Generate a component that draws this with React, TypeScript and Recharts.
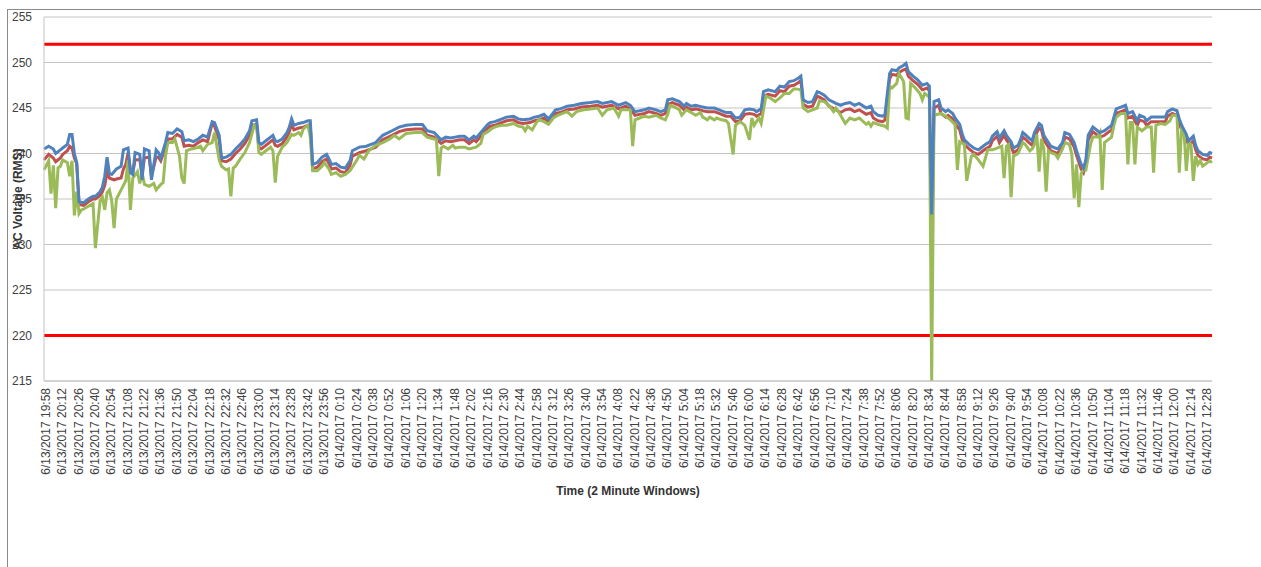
import { LineChart, Line, XAxis, YAxis, CartesianGrid, ReferenceLine, Label } from 'recharts';

// one label every 7 windows (14 minutes)
const tickLabels = [
  '6/13/2017 19:58', '6/13/2017 20:12', '6/13/2017 20:26', '6/13/2017 20:40', '6/13/2017 20:54', '6/13/2017 21:08',
  '6/13/2017 21:22', '6/13/2017 21:36', '6/13/2017 21:50', '6/13/2017 22:04', '6/13/2017 22:18', '6/13/2017 22:32',
  '6/13/2017 22:46', '6/13/2017 23:00', '6/13/2017 23:14', '6/13/2017 23:28', '6/13/2017 23:42', '6/13/2017 23:56',
  '6/14/2017 0:10', '6/14/2017 0:24', '6/14/2017 0:38', '6/14/2017 0:52', '6/14/2017 1:06', '6/14/2017 1:20',
  '6/14/2017 1:34', '6/14/2017 1:48', '6/14/2017 2:02', '6/14/2017 2:16', '6/14/2017 2:30', '6/14/2017 2:44',
  '6/14/2017 2:58', '6/14/2017 3:12', '6/14/2017 3:26', '6/14/2017 3:40', '6/14/2017 3:54', '6/14/2017 4:08',
  '6/14/2017 4:22', '6/14/2017 4:36', '6/14/2017 4:50', '6/14/2017 5:04', '6/14/2017 5:18', '6/14/2017 5:32',
  '6/14/2017 5:46', '6/14/2017 6:00', '6/14/2017 6:14', '6/14/2017 6:28', '6/14/2017 6:42', '6/14/2017 6:56',
  '6/14/2017 7:10', '6/14/2017 7:24', '6/14/2017 7:38', '6/14/2017 7:52', '6/14/2017 8:06', '6/14/2017 8:20',
  '6/14/2017 8:34', '6/14/2017 8:44', '6/14/2017 8:58', '6/14/2017 9:12', '6/14/2017 9:26', '6/14/2017 9:40',
  '6/14/2017 9:54', '6/14/2017 10:08', '6/14/2017 10:22', '6/14/2017 10:36', '6/14/2017 10:50', '6/14/2017 11:04',
  '6/14/2017 11:18', '6/14/2017 11:32', '6/14/2017 11:46', '6/14/2017 12:00', '6/14/2017 12:14', '6/14/2017 12:28',
];
const windowsPerLabel = 7;
const lastWindow = 500;

const yTicks = [215, 220, 225, 230, 235, 240, 245, 250, 255];
const upperLimit = 252;
const lowerLimit = 220;

// [window index, volts]
const blueSeries: [number, number][] = [
  [0, 240.5], [2, 240.8], [4, 240.5], [5, 240.0], [7, 240.4], [8, 240.6], [10, 241.0], [11, 242.1], [12, 242.1], [13, 240.0],
  [14, 239.0], [15, 234.7], [17, 234.6], [19, 235.0], [21, 235.3], [22, 235.3], [24, 235.8], [25, 236.3], [26, 237.5], [27, 239.6],
  [28, 237.8], [29, 237.7], [30, 238.0], [31, 238.3], [33, 238.6], [34, 240.4], [35, 240.5], [36, 240.6], [37, 237.9], [38, 237.7],
  [39, 240.1], [41, 239.9], [42, 237.1], [43, 240.5], [45, 240.3], [46, 237.1], [48, 240.4], [49, 240.1], [50, 239.5], [52, 241.2],
  [53, 242.3], [55, 242.2], [57, 242.7], [59, 242.4], [60, 241.4], [62, 241.5], [64, 241.3], [66, 241.6], [68, 242.0], [70, 241.8],
  [72, 243.5], [73, 243.4], [75, 242.0], [76, 239.5], [78, 239.6], [80, 239.9], [82, 240.5], [84, 241.0], [86, 241.6], [88, 242.5],
  [89, 243.6], [91, 243.7], [92, 241.2], [93, 241.0], [95, 241.4], [97, 241.8], [98, 242.0], [99, 241.4], [100, 241.3], [102, 241.6],
  [104, 242.3], [105, 242.9], [106, 243.8], [107, 243.1], [109, 243.3], [111, 243.4], [113, 243.6], [114, 243.6], [115, 238.8], [117, 239.0],
  [119, 239.6], [121, 239.9], [122, 239.4], [123, 238.8], [125, 238.9], [127, 238.5],
  [129, 238.4], [131, 239.2], [132, 240.3], [135, 240.7], [138, 240.8], [142, 241.2], [145, 242.0], [149, 242.5], [152, 242.9], [155, 243.1],
  [159, 243.2], [162, 243.2], [164, 242.5], [167, 242.3], [170, 241.5], [172, 241.8], [174, 241.7], [176, 241.8], [178, 241.9], [180, 241.9],
  [182, 241.5], [184, 241.9], [185, 241.7], [188, 242.6], [190, 243.2], [191, 243.4], [193, 243.5], [195, 243.7], [198, 244.0], [201, 244.1],
  [203, 243.8], [205, 243.7], [208, 243.8], [210, 244.0], [212, 244.1], [214, 244.3], [216, 243.8], [219, 244.8], [221, 244.9], [224, 245.2],
  [227, 245.3], [230, 245.5], [234, 245.6], [237, 245.7], [239, 245.5], [243, 245.7], [246, 245.3], [249, 245.6], [251, 245.3], [253, 244.6],
  [255, 244.7], [257, 244.8], [259, 245.0], [262, 244.8], [264, 244.6], [266, 244.8], [267, 245.9], [269, 246.0], [272, 245.7], [274, 245.2],
  [275, 245.5], [277, 245.2], [279, 245.3], [282, 245.1], [284, 245.0], [287, 245.0], [289, 244.8], [292, 244.5], [294, 244.5], [296, 243.9],
  [298, 244.0], [300, 244.8], [302, 244.9], [304, 244.8], [305, 244.6], [307, 244.9], [308, 246.8], [310, 247.0], [313, 246.8], [315, 247.4],
  [317, 247.3], [319, 247.9], [321, 248.0], [323, 248.3], [324, 248.5], [325, 245.9], [327, 245.6], [329, 245.7], [331, 246.8], [332, 246.7],
  [334, 246.4], [336, 245.9], [339, 245.5], [341, 245.3], [343, 245.5], [345, 245.6], [347, 245.3], [349, 245.5], [352, 245.0], [354, 245.2],
  [355, 244.6], [357, 244.2], [359, 244.1], [360, 244.3], [362, 248.8], [363, 249.2], [365, 249.1], [366, 249.4], [368, 249.7], [369, 249.9],
  [370, 249.0], [372, 248.5], [374, 248.1], [376, 247.5], [378, 247.7], [379, 247.4], [380, 233.3], [381, 245.7], [383, 245.9], [384, 245.0],
  [386, 244.6], [387, 244.8], [389, 244.4], [390, 243.9], [392, 243.2], [393, 242.2], [394, 241.5], [396, 241.0], [398, 240.6], [400, 240.4],
  [402, 240.8], [403, 241.0], [405, 241.3], [406, 241.9], [408, 242.4], [409, 241.7], [411, 242.5], [412, 242.0], [414, 241.3], [415, 240.6],
  [417, 240.9], [418, 241.5], [419, 242.3], [420, 242.1], [422, 241.6], [423, 241.4], [424, 242.3], [426, 243.3], [427, 243.1], [428, 242.0],
  [429, 241.6], [431, 240.8], [433, 240.6], [434, 240.5], [436, 241.2], [437, 242.3], [439, 242.1], [441, 241.2], [442, 240.3], [444, 238.8],
  [445, 238.4], [446, 239.3], [447, 242.0], [449, 242.9], [451, 242.5], [452, 242.3], [454, 242.5], [456, 242.9], [457, 243.1], [459, 244.9],
  [461, 245.1], [463, 245.3], [464, 244.4], [466, 244.6], [468, 243.6], [469, 244.2], [471, 244.0], [472, 243.6], [474, 244.0], [476, 244.0],
  [478, 244.0], [480, 244.0], [481, 244.6], [483, 244.9], [485, 244.7], [486, 243.8], [487, 243.1], [489, 242.1], [490, 241.4], [492, 241.9],
  [493, 240.9], [494, 240.3], [496, 239.9], [498, 239.8], [499, 240.1], [500, 240.0],
];

const redSeries: [number, number][] = [
  [0, 239.3], [2, 239.9], [4, 239.5], [5, 239.1], [7, 239.5], [8, 239.9], [10, 240.3], [11, 240.8], [12, 240.6], [13, 239.5],
  [14, 238.9], [15, 234.4], [17, 234.3], [19, 234.7], [21, 235.0], [22, 235.0], [24, 235.4], [25, 235.8], [26, 236.5], [27, 238.0],
  [28, 237.3], [29, 237.2], [30, 237.1], [31, 237.2], [33, 237.3], [34, 238.3], [35, 238.8], [36, 240.1], [37, 238.2], [38, 237.9],
  [39, 239.3], [41, 239.3], [42, 237.7], [43, 239.5], [45, 239.6], [46, 237.5], [48, 239.6], [49, 239.6], [50, 239.2], [52, 240.7],
  [53, 241.6], [55, 241.6], [57, 242.1], [59, 241.8], [60, 240.8], [62, 240.9], [64, 240.8], [66, 241.2], [68, 241.5], [70, 241.3],
  [72, 243.3], [73, 243.0], [75, 241.5], [76, 239.2], [78, 239.1], [80, 239.4], [82, 240.0], [84, 240.5], [86, 241.1], [88, 242.0],
  [89, 243.1], [91, 243.2], [92, 240.7], [93, 240.5], [95, 240.9], [97, 241.3], [98, 241.5], [99, 240.9], [100, 240.8], [102, 241.1],
  [104, 241.8], [105, 242.4], [106, 243.2], [107, 242.6], [109, 242.8], [111, 242.9], [113, 243.1], [114, 243.1], [115, 238.3], [117, 238.5],
  [119, 239.1], [121, 239.4], [122, 238.9], [123, 238.3], [125, 238.4], [127, 238.0],
  [129, 237.9], [131, 238.7], [132, 239.7], [135, 240.1], [138, 240.3], [142, 240.7], [145, 241.5], [149, 242.0], [152, 242.4], [155, 242.6],
  [159, 242.7], [162, 242.7], [164, 242.0], [167, 241.8], [170, 241.1], [172, 241.4], [174, 241.3], [176, 241.4], [178, 241.5], [180, 241.5],
  [182, 241.1], [184, 241.5], [185, 241.3], [188, 242.2], [190, 242.8], [191, 243.0], [193, 243.1], [195, 243.3], [198, 243.6], [201, 243.7],
  [203, 243.4], [205, 243.3], [208, 243.4], [210, 243.6], [212, 243.7], [214, 243.9], [216, 243.4], [219, 244.4], [221, 244.5], [224, 244.8],
  [227, 244.9], [230, 245.1], [234, 245.2], [237, 245.3], [239, 245.1], [243, 245.3], [246, 244.9], [249, 245.2], [251, 244.9], [253, 244.2],
  [255, 244.3], [257, 244.4], [259, 244.6], [262, 244.4], [264, 244.2], [266, 244.4], [267, 245.4], [269, 245.6], [272, 245.3], [274, 244.8],
  [275, 245.1], [277, 244.8], [279, 244.9], [282, 244.7], [284, 244.6], [287, 244.6], [289, 244.4], [292, 244.1], [294, 244.1], [296, 243.5],
  [298, 243.6], [300, 244.3], [302, 244.4], [304, 244.3], [305, 244.1], [307, 244.4], [308, 246.3], [310, 246.5], [313, 246.3], [315, 246.9],
  [317, 246.8], [319, 247.4], [321, 247.5], [323, 247.8], [324, 248.0], [325, 245.4], [327, 245.1], [329, 245.2], [331, 246.3], [332, 246.2],
  [334, 245.9], [336, 245.2], [339, 244.8], [341, 244.5], [343, 244.8], [345, 244.9], [347, 244.6], [349, 244.8], [352, 244.3], [354, 244.5],
  [355, 243.9], [357, 243.6], [359, 243.5], [360, 243.7], [362, 248.2], [363, 248.7], [365, 248.6], [366, 248.9], [368, 249.2], [369, 249.3],
  [370, 248.5], [372, 248.0], [374, 247.6], [376, 247.0], [378, 247.2], [379, 246.9], [380, 228.0], [381, 245.0], [383, 245.3], [384, 244.4],
  [386, 244.0], [387, 244.2], [389, 243.8], [390, 243.3], [392, 242.6], [393, 241.6], [394, 241.0], [396, 240.5], [398, 240.1], [400, 239.9],
  [402, 240.3], [403, 240.5], [405, 240.8], [406, 241.4], [408, 241.9], [409, 241.2], [411, 242.0], [412, 241.5], [414, 240.8], [415, 240.1],
  [417, 240.4], [418, 241.0], [419, 241.8], [420, 241.6], [422, 241.1], [423, 240.9], [424, 241.8], [426, 242.8], [427, 242.6], [428, 241.5],
  [429, 241.1], [431, 240.3], [433, 240.1], [434, 240.0], [436, 240.7], [437, 241.8], [439, 241.6], [441, 240.7], [442, 239.8], [444, 238.3],
  [445, 237.9], [446, 238.8], [447, 241.5], [449, 242.4], [451, 242.0], [452, 241.8], [454, 242.0], [456, 242.4], [457, 242.6], [459, 244.4],
  [461, 244.6], [463, 244.8], [464, 243.9], [466, 244.1], [468, 243.1], [469, 243.7], [471, 243.5], [472, 243.1], [474, 243.5], [476, 243.5],
  [478, 243.5], [480, 243.5], [481, 244.1], [483, 244.4], [485, 244.2], [486, 243.3], [487, 242.6], [489, 241.6], [490, 240.9], [492, 241.4],
  [493, 240.4], [494, 239.8], [496, 239.4], [498, 239.3], [499, 239.6], [500, 239.5],
];

const greenSeries: [number, number][] = [
  [0, 238.2], [2, 239.2], [3, 235.6], [4, 238.7], [5, 234.0], [6, 238.4], [7, 238.6], [8, 239.3], [10, 239.0], [11, 237.5],
  [12, 239.2], [13, 233.2], [14, 235.8], [15, 233.4], [16, 233.8], [17, 233.9], [19, 234.2], [21, 234.5], [22, 229.6], [24, 234.8],
  [25, 235.2], [26, 233.8], [27, 235.7], [28, 236.0], [29, 234.8], [30, 231.8], [31, 235.0], [33, 236.0], [34, 236.5], [35, 237.0],
  [36, 239.3], [37, 233.8], [38, 237.3], [40, 238.0], [41, 236.7], [42, 237.9], [43, 236.6], [45, 236.4], [47, 236.7], [48, 236.0],
  [50, 236.6], [51, 236.8], [52, 239.7], [53, 241.2], [55, 241.2], [56, 241.6], [58, 239.7], [59, 237.3], [60, 236.7], [61, 240.3],
  [63, 240.5], [65, 240.6], [67, 240.8], [68, 240.3], [70, 241.0], [72, 241.2], [73, 242.3], [75, 239.3], [76, 238.6], [78, 238.2],
  [79, 238.3], [80, 235.3], [81, 238.4], [82, 238.6], [84, 239.4], [86, 240.1], [88, 241.2], [90, 243.1], [91, 243.1], [92, 240.1],
  [93, 239.9], [95, 240.3], [97, 240.7], [98, 240.3], [99, 236.8], [100, 239.7], [102, 240.7], [104, 241.2], [106, 242.1], [107, 242.0],
  [109, 242.3], [110, 242.0], [111, 242.7], [113, 243.1], [114, 241.8], [115, 238.1], [117, 238.1], [119, 238.6], [120, 239.0], [122, 238.3],
  [123, 237.7], [125, 237.9], [127, 237.5], [129, 237.7], [131, 238.1], [134, 239.3],
  [135, 239.8], [137, 239.4], [139, 240.3], [142, 240.9], [145, 241.2], [148, 241.6], [150, 242.0], [152, 241.6], [155, 242.2], [159, 242.3],
  [162, 242.3], [164, 241.8], [167, 241.6], [168, 241.5], [169, 237.5], [170, 240.6], [171, 240.8], [173, 240.5], [175, 240.9], [176, 240.6],
  [178, 240.7], [180, 240.7], [182, 240.5], [185, 240.7], [187, 241.1], [188, 242.1], [190, 242.4], [192, 242.8], [194, 243.0], [196, 243.1],
  [198, 243.1], [201, 243.3], [203, 243.0], [205, 242.9], [206, 242.5], [207, 243.0], [209, 242.6], [211, 243.5], [212, 243.7], [214, 243.5],
  [216, 243.2], [218, 243.9], [220, 244.2], [222, 244.4], [224, 244.6], [226, 244.1], [228, 244.6], [231, 244.8], [234, 244.9], [237, 245.0],
  [239, 244.2], [241, 244.8], [244, 245.0], [246, 244.1], [247, 244.8], [249, 244.8], [251, 244.8], [252, 240.8], [253, 243.7], [255, 243.9],
  [257, 244.1], [259, 244.0], [262, 244.2], [264, 243.9], [266, 243.7], [267, 244.3], [268, 245.3], [270, 245.1], [272, 244.8], [273, 244.2],
  [275, 244.8], [277, 244.5], [279, 244.2], [281, 244.5], [282, 244.0], [284, 243.7], [285, 244.0], [287, 243.7], [288, 243.9], [290, 243.7],
  [292, 243.6], [293, 243.3], [295, 239.9], [296, 243.1], [298, 243.5], [300, 243.1], [302, 241.5], [303, 243.9], [304, 243.1], [306, 243.9],
  [307, 243.3], [309, 246.3], [311, 246.1], [313, 245.7], [315, 246.1], [317, 246.6], [319, 246.6], [321, 247.1], [322, 247.1], [324, 247.0],
  [325, 245.0], [327, 244.6], [329, 244.8], [331, 245.0], [332, 245.8], [334, 245.7], [336, 245.3], [338, 244.6], [339, 245.0], [341, 244.2],
  [343, 243.3], [345, 243.9], [347, 243.7], [349, 243.9], [352, 243.2], [353, 243.4], [354, 243.0], [355, 243.4], [357, 243.2], [360, 243.0],
  [361, 242.8], [362, 247.4], [363, 247.2], [365, 247.7], [366, 248.8], [368, 247.9], [369, 243.9], [370, 243.8], [371, 247.7], [373, 247.2],
  [375, 246.6], [376, 245.9], [377, 246.6], [379, 246.2], [380, 215.0], [381, 244.2], [384, 244.4], [386, 244.1], [388, 243.7], [390, 243.2],
  [391, 238.2], [392, 241.3], [394, 241.0], [395, 237.0], [397, 239.7], [398, 239.9], [400, 239.3], [402, 238.6], [403, 239.5], [404, 240.4],
  [406, 240.4], [408, 240.6], [410, 240.8], [411, 237.3], [412, 240.8], [413, 241.0], [414, 235.2], [415, 239.7], [417, 240.0], [419, 241.2],
  [420, 241.0], [422, 240.3], [423, 240.5], [424, 241.0], [425, 242.1], [426, 238.0], [427, 241.6], [428, 240.5], [429, 235.8], [430, 240.3],
  [431, 240.1], [433, 239.9], [434, 239.5], [436, 240.5], [437, 241.2], [439, 241.0], [440, 239.9], [441, 235.1], [442, 238.8], [443, 234.1],
  [444, 237.8], [445, 238.2], [446, 238.2], [448, 241.0], [449, 241.8], [451, 241.8], [452, 242.3], [453, 236.0], [454, 241.2], [456, 241.6],
  [457, 241.8], [458, 243.1], [459, 244.0], [461, 244.4], [463, 244.4], [464, 238.8], [465, 243.4], [466, 243.4], [467, 238.8], [468, 242.9],
  [470, 242.5], [472, 242.9], [474, 242.9], [475, 237.9], [476, 243.1], [478, 243.3], [480, 243.2], [482, 243.6], [483, 244.2], [485, 244.2],
  [486, 237.9], [487, 242.9], [488, 242.5], [489, 238.1], [490, 241.2], [491, 241.0], [492, 237.0], [493, 239.7], [494, 238.8], [495, 239.2],
  [496, 238.6], [498, 239.0], [499, 239.2], [500, 239.0],
];

const xTicks = tickLabels.map((_, k) => k * windowsPerLabel);
const toRows = (pts: [number, number][]) => pts.map(([i, v]) => ({ i, v }));

const axisGray = '#c4c4c4';
const textGray = '#404040';

const TimeTick = ({ x, y, payload }: any) => (
  <text
    x={x}
    y={y}
    transform={`rotate(-90, ${x}, ${y})`}
    textAnchor="end"
    dy="0.5em"
    fontSize={12}
    fill={textGray}
  >
    {tickLabels[Math.round(payload.value / windowsPerLabel)]}
  </text>
);

export default function App() {
  return (
    <div
      style={{
        position: 'absolute',
        left: 0,
        top: 0,
        width: 1261,
        height: 567,
        overflow: 'hidden',
        background: '#fff',
        fontFamily: '"Liberation Sans", Arial, sans-serif',
      }}
    >
      {/* chart area border, clipped on the right and bottom */}
      <div
        style={{
          position: 'absolute',
          left: 7,
          top: 9,
          width: 1300,
          height: 600,
          borderTop: '1px solid #8a8a8a',
          borderLeft: '1px solid #8a8a8a',
        }}
      />
      <div style={{ position: 'absolute', left: 0, top: 0 }}>
        <LineChart width={1261} height={567} margin={{ top: 17, right: 49, bottom: 71, left: 0 }}>
          <CartesianGrid vertical={false} stroke={axisGray} strokeWidth={1} />
          <XAxis
            dataKey="i"
            type="number"
            domain={[0, lastWindow]}
            ticks={xTicks}
            interval={0}
            height={115}
            tickLine={false}
            tickSize={6}
            tickMargin={1}
            axisLine={{ stroke: axisGray }}
            tick={<TimeTick />}
          >
            <Label
              content={({ viewBox }: any) => (
                <text
                  x={viewBox.x + viewBox.width / 2}
                  y={viewBox.y + 110}
                  textAnchor="middle"
                  dominantBaseline="central"
                  fontSize={12}
                  fontWeight="bold"
                  fill="#333"
                >
                  Time (2 Minute Windows)
                </text>
              )}
            />
          </XAxis>
          <YAxis
            type="number"
            domain={[215, 255]}
            ticks={yTicks}
            interval={0}
            width={44}
            tickLine={false}
            tickSize={6}
            tickMargin={6}
            axisLine={{ stroke: axisGray }}
            tick={{ fontSize: 12, fill: textGray }}
          >
            <Label
              content={({ viewBox }: any) => {
                const cx = viewBox.x + 18;
                const cy = viewBox.y + viewBox.height / 2;
                return (
                  <text
                    x={cx}
                    y={cy}
                    transform={`rotate(-90, ${cx}, ${cy})`}
                    textAnchor="middle"
                    dominantBaseline="central"
                    fontSize={12}
                    fontWeight="bold"
                    fill="#333"
                  >
                    AC Voltage (RMS)
                  </text>
                );
              }}
            />
          </YAxis>
          <ReferenceLine y={upperLimit} stroke="#ff0000" strokeWidth={3} />
          <ReferenceLine y={lowerLimit} stroke="#ff0000" strokeWidth={3} />
          <Line
            data={toRows(redSeries)}
            dataKey="v"
            type="linear"
            stroke="#c0504d"
            strokeWidth={3}
            dot={false}
            isAnimationActive={false}
          />
          <Line
            data={toRows(greenSeries)}
            dataKey="v"
            type="linear"
            stroke="#9bbb59"
            strokeWidth={3}
            dot={false}
            isAnimationActive={false}
          />
          <Line
            data={toRows(blueSeries)}
            dataKey="v"
            type="linear"
            stroke="#4f81bd"
            strokeWidth={3}
            dot={false}
            isAnimationActive={false}
          />
        </LineChart>
      </div>
    </div>
  );
}
